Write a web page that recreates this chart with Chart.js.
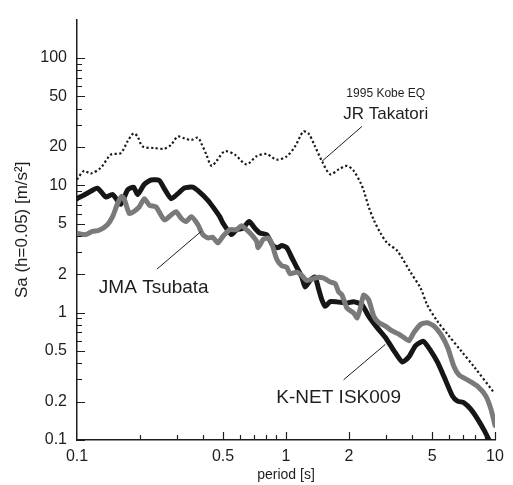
<!DOCTYPE html>
<html>
<head>
<meta charset="utf-8">
<script src="https://cdn.jsdelivr.net/npm/chart.js@4"></script>
<style>
  html, body { margin: 0; padding: 0; background: #fff; }
  #c { display: block; }
</style>
</head>
<body>
<canvas id="c" width="513" height="485"></canvas>
<script>
// Acceleration response spectra, Sa (h = 0.05), vs. natural period
const takatoriPeriod = [0.1, 0.108, 0.1164, 0.130, 0.1453, 0.162, 0.1745, 0.1866, 0.195, 0.206,
  0.2345, 0.262, 0.282, 0.303, 0.3266, 0.352, 0.379, 0.393, 0.416, 0.440,
  0.465, 0.509, 0.569, 0.647, 0.723, 0.807, 0.902, 1.008, 1.105, 1.21,
  1.28, 1.377, 1.485, 1.627, 1.784, 1.958, 2.107, 2.27, 2.353, 2.487,
  2.63, 2.83, 3.05, 3.41, 3.94, 4.41, 4.74, 5.30, 5.93, 6.86, 7.94, 9.92];
const takatoriSa = [11.1, 12.97, 12.36, 13.75, 17.4, 17.9, 22.1, 25.6, 24.1, 20.2,
  19.6, 19.4, 20.8, 24.1, 23.4, 22.7, 23.7, 21.4, 17.4, 14.2,
  15.5, 18.5, 17.4, 14.6, 16.9, 17.6, 15.9, 16.9, 20.2, 26.4,
  25.6, 20.2, 15.5, 12.2, 13.3, 14.2, 13.0, 10.5, 9.1, 6.77,
  5.35, 4.22, 3.53, 3.05, 2.08, 1.55, 1.15, 0.857, 0.677, 0.504, 0.376, 0.234];

const isk009Period = [0.1, 0.112, 0.1252, 0.1374, 0.148, 0.162, 0.1745, 0.1866, 0.195, 0.210,
  0.226, 0.2477, 0.262, 0.282, 0.303, 0.3266, 0.358, 0.386, 0.423, 0.447,
  0.482, 0.4995, 0.548, 0.580, 0.623, 0.666, 0.709, 0.750, 0.807, 0.869,
  0.918, 0.953, 1.008, 1.065, 1.126, 1.19, 1.234, 1.304, 1.377, 1.43,
  1.485, 1.54, 1.627, 1.753, 1.958, 2.107, 2.31, 2.487, 2.73, 2.99,
  3.28, 3.60, 3.87, 4.17, 4.54, 4.92, 5.30, 5.70, 6.26, 6.62,
  7.11, 7.67, 8.26, 8.88, 9.39];
const isk009Sa = [7.85, 8.67, 9.49, 8.09, 8.47, 7.10, 9.20, 9.66, 8.47, 10.2,
  11.0, 10.9, 9.37, 7.85, 8.57, 9.53, 9.66, 8.83, 7.62, 6.77,
  5.67, 5.04, 4.10, 4.48, 4.61, 5.19, 4.61, 4.22, 4.10, 3.33,
  3.24, 3.37, 3.24, 2.71, 2.27, 1.90, 1.59, 1.79, 1.90, 1.55,
  1.26, 1.12, 1.22, 1.215, 1.19, 1.22, 1.15, 0.936, 0.763, 0.639,
  0.504, 0.41, 0.449, 0.551, 0.595, 0.504, 0.41, 0.315, 0.221, 0.202,
  0.196, 0.174, 0.146, 0.119, 0.099];

const tsubataPeriod = [0.1, 0.110, 0.1185, 0.1276, 0.1398, 0.148, 0.1563, 0.1634, 0.168, 0.178,
  0.1866, 0.1986, 0.210, 0.222, 0.2387, 0.262, 0.282, 0.298, 0.315, 0.333,
  0.352, 0.379, 0.400, 0.423, 0.446, 0.4726, 0.4995, 0.538, 0.580, 0.612,
  0.647, 0.684, 0.723, 0.736, 0.778, 0.822, 0.853, 0.902, 0.953, 1.008,
  1.045, 1.126, 1.19, 1.257, 1.352, 1.43, 1.51, 1.627, 1.72, 1.784,
  1.853, 1.958, 2.107, 2.19, 2.27, 2.353, 2.487, 2.63, 2.78, 2.99,
  3.22, 3.47, 3.66, 3.87, 4.09, 4.41, 4.74, 5.11, 5.50, 5.93,
  6.37, 6.73, 7.39, 8.26, 9.05, 9.57, 10];
const tsubataSa = [4.20, 4.10, 4.35, 4.43, 4.90, 5.67, 7.18, 8.18, 7.85, 6.01,
  6.20, 6.77, 7.85, 6.98, 6.77, 5.35, 5.85, 6.20, 5.51, 5.19,
  5.67, 4.90, 4.10, 3.86, 3.91, 3.53, 3.98, 4.48, 4.48, 4.81,
  4.48, 4.10, 3.64, 3.24, 3.76, 3.86, 3.53, 2.64, 2.34, 2.27,
  2.02, 2.08, 1.96, 1.79, 1.85, 1.90, 1.87, 1.74, 1.69, 1.46,
  1.375, 1.087, 0.995, 0.91, 1.087, 1.375, 1.26, 0.936, 0.834, 0.784,
  0.718, 0.677, 0.639, 0.601, 0.698, 0.809, 0.834, 0.784, 0.677, 0.535,
  0.376, 0.324, 0.296, 0.264, 0.221, 0.174, 0.130];

// Axis tick values
const xLabelTicks = [0.1, 0.5, 1, 2, 5, 10];
const xMinorTicks = [0.2, 0.3, 0.4, 0.6, 0.7, 0.8, 0.9, 3, 4, 6, 7, 8, 9];
const yLabelTicks = [0.1, 0.2, 0.5, 1, 2, 5, 10, 20, 50, 100];
const yMinorTicks = [0.3, 0.4, 0.6, 0.7, 0.8, 0.9, 3, 4, 6, 7, 8, 9, 30, 40, 60, 70, 80, 90];

// Curve labels (period, Sa) and their leader lines
const noteTexts = ['1995 Kobe EQ', 'JR Takatori', 'JMA Tsubata', 'K-NET ISK009'];
const noteAnchors = [[3.0, 52], [3.0, 36], [0.233, 1.58], [1.786, 0.215]];
const noteSizes = [12, 17, 19, 19];
const leaderLines = [
  [[2.31, 29.0], [1.487, 15.44]],
  [[0.2415, 2.20], [0.393, 4.35]],
  [[1.886, 0.297], [2.99, 0.564]]
];

const FONT = "'Liberation Sans', Arial, Helvetica, sans-serif";
const INK = '#1e1e1e';

function toPoints(xs, ys) {
  return xs.map((x, i) => ({ x: x, y: ys[i] }));
}

const innerTicks = {
  id: 'innerTicks',
  afterDatasetsDraw(chart) {
    const ctx = chart.ctx;
    const xs = chart.scales.x, ys = chart.scales.y;
    const left = chart.chartArea.left, bottom = chart.chartArea.bottom;
    ctx.save();
    ctx.strokeStyle = INK;
    ctx.lineWidth = 1.2;
    ctx.beginPath();
    yLabelTicks.forEach(v => { const p = Math.round(ys.getPixelForValue(v)) + 0.5; ctx.moveTo(left, p); ctx.lineTo(left + 8, p); });
    yMinorTicks.forEach(v => { const p = Math.round(ys.getPixelForValue(v)) + 0.5; ctx.moveTo(left, p); ctx.lineTo(left + 5, p); });
    xLabelTicks.slice(1).forEach(v => { const p = Math.round(xs.getPixelForValue(v)) + 0.5; ctx.moveTo(p, bottom); ctx.lineTo(p, bottom - 8); });
    xMinorTicks.forEach(v => { const p = Math.round(xs.getPixelForValue(v)) + 0.5; ctx.moveTo(p, bottom); ctx.lineTo(p, bottom - 5); });
    ctx.stroke();

    // leader lines
    ctx.lineWidth = 1;
    ctx.beginPath();
    leaderLines.forEach(seg => {
      ctx.moveTo(xs.getPixelForValue(seg[0][0]), ys.getPixelForValue(seg[0][1]));
      ctx.lineTo(xs.getPixelForValue(seg[1][0]), ys.getPixelForValue(seg[1][1]));
    });
    ctx.stroke();

    // curve labels
    ctx.fillStyle = INK;
    ctx.textAlign = 'center';
    ctx.textBaseline = 'middle';
    noteTexts.forEach((t, i) => {
      ctx.font = noteSizes[i] + 'px ' + FONT;
      ctx.fillText(t, xs.getPixelForValue(noteAnchors[i][0]), ys.getPixelForValue(noteAnchors[i][1]));
    });
    ctx.restore();
  }
};

new Chart(document.getElementById('c'), {
  type: 'line',
  data: {
    datasets: [
      {
        label: 'JR Takatori',
        data: toPoints(takatoriPeriod, takatoriSa),
        borderColor: '#1a1a1a',
        borderWidth: 2.2,
        borderDash: [2.2, 2.4],
        pointRadius: 0,
        tension: 0.3,
        fill: false,
        order: 3
      },
      {
        label: 'K-NET ISK009',
        data: toPoints(isk009Period, isk009Sa),
        borderColor: '#161616',
        borderWidth: 5,
        pointRadius: 0,
        tension: 0.2,
        borderJoinStyle: 'round',
        borderCapStyle: 'round',
        fill: false,
        order: 2
      },
      {
        label: 'JMA Tsubata',
        data: toPoints(tsubataPeriod, tsubataSa),
        borderColor: '#7a7a7a',
        borderWidth: 5,
        pointRadius: 0,
        tension: 0.2,
        borderJoinStyle: 'round',
        borderCapStyle: 'round',
        fill: false,
        order: 1
      }
    ]
  },
  options: {
    responsive: false,
    animation: false,
    devicePixelRatio: 1,
    layout: { padding: { top: 6, right: 18, left: 0, bottom: 0 } },
    plugins: { legend: { display: false }, tooltip: { enabled: false } },
    scales: {
      x: {
        type: 'logarithmic',
        min: 0.1,
        max: 10,
        afterBuildTicks: s => { s.ticks = xLabelTicks.map(v => ({ value: v })); },
        afterFit: s => { s.height = 45; },
        grid: { display: false, drawTicks: false },
        border: { display: true, color: INK, width: 1.5 },
        ticks: {
          autoSkip: false, maxRotation: 0, padding: 7, color: INK,
          font: { family: FONT, size: 16 },
          callback: v => String(v)
        },
        title: {
          display: true, text: 'period [s]', color: INK,
          font: { family: FONT, size: 14 },
          padding: { top: 0, bottom: 1 }
        }
      },
      y: {
        type: 'logarithmic',
        min: 0.1,
        max: 200,
        afterBuildTicks: s => { s.ticks = yLabelTicks.map(v => ({ value: v })); },
        afterFit: s => { s.width = 77; },
        grid: { display: false, drawTicks: false },
        border: { display: true, color: INK, width: 1.5 },
        ticks: {
          autoSkip: false, padding: 10, color: INK,
          font: { family: FONT, size: 16 },
          callback: v => String(v)
        },
        title: {
          display: true, text: 'Sa (h=0.05) [m/s²]', color: INK,
          font: { family: FONT, size: 17 },
          padding: { top: 12, bottom: 0 }
        }
      }
    }
  },
  plugins: [innerTicks]
});
</script>
</body>
</html>
